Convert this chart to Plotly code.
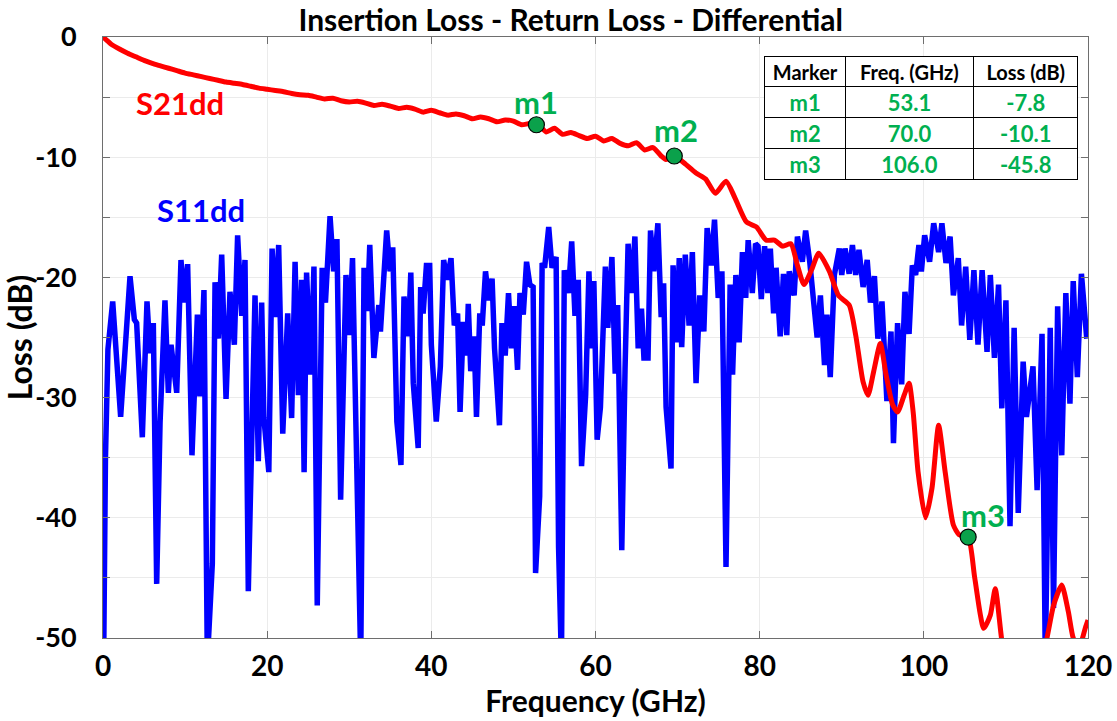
import plotly.graph_objects as go

# ---------------- data ----------------
s11_freq = [0.0, 0.3, 0.6, 1.18, 2.15, 2.7, 3.29, 3.82, 4.1, 4.79, 5.36, 5.73, 6.13, 6.54, 6.95, 7.55,
            7.96, 8.29, 8.98, 9.5, 9.91, 10.31, 10.84, 11.5, 11.8, 12.3, 12.71, 13.32, 13.65, 14.05,
            14.46, 14.99, 15.47, 16.0, 16.4, 16.9, 17.3, 17.7, 18.52, 18.92, 19.33, 19.6, 20.2, 20.6,
            21.0, 21.4, 21.9, 22.5, 22.98, 23.4, 23.8, 24.2, 24.5, 24.8, 25.3, 25.7, 26.1, 26.7, 27.1,
            27.66, 28.1, 28.5, 28.95, 29.6, 30.0, 30.4, 30.8, 31.4, 31.8, 32.2, 32.5, 33.0, 33.6, 33.8,
            34.56, 34.97, 35.3, 35.8, 36.3, 36.67, 37.2, 37.5, 37.8, 38.4, 38.7, 39.0, 39.4, 39.8, 40.0,
            40.6, 41.1, 41.5, 41.9, 42.4, 42.8, 43.2, 43.5, 43.9, 44.3, 44.5, 44.8, 45.2, 45.5, 45.9,
            46.2, 46.6, 47.0, 47.4, 47.7, 48.3, 48.6, 49.0, 49.4, 49.76, 50.1, 50.5, 50.8, 51.2, 51.6,
            52.0, 52.4, 52.7, 53.2, 53.5, 53.8, 54.3, 54.7, 55.2, 55.5, 55.85, 56.2, 56.7, 57.1, 57.5,
            57.9, 58.3, 58.8, 59.2, 59.5, 59.8, 60.2, 60.6, 61.2, 61.5, 62.0, 62.4, 62.7, 63.2, 63.6,
            63.97, 64.4, 64.8, 65.2, 65.6, 65.9, 66.4, 66.7, 67.1, 67.6, 68.0, 68.3, 68.6, 69.2, 69.45,
            69.9, 70.2, 70.5, 70.94, 71.4, 71.8, 72.25, 72.7, 73.2, 73.6, 74.1, 74.5, 74.95, 75.4, 75.9,
            76.4, 76.7, 77.1, 77.5, 77.9, 78.3, 78.6, 79.1, 79.5, 79.8, 80.2, 80.6, 81.0, 81.3, 81.7,
            82.0, 82.5, 82.9, 83.3, 83.6, 84.2, 84.6, 85.2, 85.6, 86.1, 87.0, 87.4, 87.9, 88.2, 88.6,
            89.1, 89.7, 90.0, 90.4, 90.9, 91.3, 91.7, 92.1, 92.6, 93.1, 93.5, 93.98, 94.4, 94.9, 95.5,
            96.0, 96.3, 96.8, 97.3, 97.7, 98.2, 98.6, 99.0, 99.4, 99.7, 100.1, 100.7, 101.2, 101.8,
            102.2, 102.7, 103.2, 103.6, 104.2, 104.6, 105.1, 105.6, 106.1, 106.6, 107.1, 107.7, 108.1,
            108.6, 109.1, 109.5, 110.0, 110.5, 111.0, 111.5, 112.1, 112.5, 113.3, 113.8, 114.4, 114.8,
            115.4, 115.8, 116.3, 116.8, 117.3, 117.8, 118.2, 118.7, 119.2, 119.85]
s11_db = [-58, -35, -26, -22.0, -31.6, -25, -19.9, -23.5, -23.8, -33.3, -22.0, -26.3, -23.8, -45.5, -32.1, -21.9,
          -29.6, -25.6, -29.6, -18.55, -22.1, -18.9, -34.8, -23.1, -29.9, -21.05, -52, -43.8, -20.4, -25.1,
          -18.1, -30.1, -21.2, -25.6, -16.5, -23.2, -18.55, -46.1, -21.5, -35.3, -22.1, -31.7, -36.2, -17.6,
          -23.3, -17.3, -33.0, -23.0, -31.7, -18.7, -29.8, -20.2, -36.2, -19.6, -28.1, -19.1, -47.3, -19.2, -22.1,
          -14.9, -19.5, -16.8, -38.5, -19.8, -24.8, -18.4, -33.4, -52, -19.2, -22.8, -17.3, -26.7, -22.3, -24.5,
          -16.1, -19.5, -17.5, -32.0, -35.6, -21.6, -24.9, -19.6, -28.8, -34.2, -20.8, -23.0, -19.0, -19.0, -25.6,
          -32.0, -27.4, -18.55, -20.2, -18.4, -24.0, -23.0, -31.2, -23.7, -26.5, -22.2, -27.8, -24.9, -31.6, -23.0,
          -24.0, -19.5, -21.9, -20.1, -25.9, -32.3, -23.8, -26.5, -21.3, -25.9, -22.4, -27.7, -21.3, -23.1, -18.7,
          -20.6, -20.8, -44.6, -38.2, -18.8, -19.2, -15.8, -19.2, -18.3, -42.4, -52, -19.4, -21.3, -17.0, -23.2,
          -20.2, -35.7, -29.8, -19.5, -25.9, -20.3, -33.5, -30.8, -19.1, -24.2, -18.3, -28.0, -22.3, -42.7, -27.6,
          -17.2, -21.3, -16.6, -25.9, -22.6, -26.7, -26.7, -16.1, -19.5, -15.5, -23.3, -20.5, -30.8, -35.9, -19.0,
          -25.4, -18.4, -25.8, -18.1, -24.0, -17.9, -28.8, -21.5, -24.5, -15.9, -19.0, -15.2, -21.7, -19.5, -44.1,
          -20.6, -28.1, -19.8, -25.4, -17.9, -21.7, -16.9, -21.3, -17.2, -17.4, -21.8, -17.4, -21.3, -17.6, -23.0,
          -19.2, -24.9, -19.7, -24.8, -19.5, -21.5, -16.6, -18.7, -16.1, -18.7, -25.0, -21.5, -27.3, -23.1, -28.3,
          -19.8, -17.6, -19.8, -17.6, -19.7, -17.3, -19.8, -17.7, -20.8, -18.55, -22.1, -19.9, -25.1, -22.0, -30.3,
          -24.5, -33.8, -23.8, -28.9, -21.2, -24.7, -19.0, -19.8, -17.3, -19.5, -16.5, -18.7, -15.5, -17.9,
          -15.5, -18.8, -16.6, -21.5, -18.4, -24.0, -19.1, -25.2, -19.4, -25.6, -19.4, -26.2, -19.8,
          -26.7, -20.6, -30.9, -21.9, -40.7, -24.2, -39.6, -27.0, -31.6, -27.4, -37.7, -24.7, -52,
          -24.2, -47.5, -22.4, -34.8, -21.3, -30.5, -20.3, -28.3, -19.7, -25.1]

s21_freq = [0, 0.5, 1, 2, 3, 4, 5, 6, 7, 8, 9, 10, 11, 12, 13, 14, 15, 16, 17, 18, 19, 20, 21, 22, 23, 24,
            25, 26, 27, 28, 29, 30, 31, 32, 33, 34, 35, 36, 37, 38, 39, 40, 41, 42, 43, 44, 45, 46, 47,
            48, 49, 50, 51, 52, 53.1, 54, 55, 56, 57, 58, 59, 60, 61, 62, 63, 64, 65, 66, 67, 68, 68.6,
            69.6, 71.0, 72.2, 73.4, 74.6, 75.9, 77.0, 78.4, 79.6, 80.8, 81.8, 82.8, 83.8, 84.6,
            85.4, 86.3, 87.2, 88.5, 89.6, 90.9, 91.7, 92.6, 93.2, 93.9, 94.7, 95.4, 96.2, 96.8, 97.6,
            98.2, 98.7, 99.3, 100.2, 101.0, 101.8, 102.6, 103.6, 104.3, 105.4, 106.2, 107.3, 108.1,
            108.7, 109.5, 110.5, 112.0, 113.5, 115.0, 115.8, 116.8, 117.6, 118.2, 118.9, 119.7, 120]
s21_db = [0, -0.3, -0.6, -1.0, -1.35, -1.65, -1.95, -2.2, -2.4, -2.6, -2.8, -3.0, -3.15, -3.3, -3.45, -3.6,
          -3.75, -3.85, -3.95, -4.1, -4.25, -4.35, -4.45, -4.55, -4.7, -4.8, -4.85, -5.0, -5.15, -5.1, -5.3,
          -5.4, -5.35, -5.5, -5.7, -5.6, -5.75, -5.95, -5.85, -6.0, -6.25, -6.1, -6.3, -6.5, -6.4, -6.55,
          -6.8, -6.65, -6.8, -7.05, -6.9, -7.0, -7.3, -7.2, -7.35, -7.9, -7.6, -8.1, -7.95, -8.2, -8.45,
          -8.25, -8.65, -8.45, -8.85, -9.05, -8.8, -9.4, -9.2, -9.9, -10.2, -9.9, -10.6, -11.3, -11.8,
          -13.0, -12.0, -13.4, -15.4, -15.8, -16.9, -16.9, -17.4, -17.2, -19.0, -20.6, -19.4,
          -18.0, -19.5, -21.5, -22.3, -24.8, -28.7, -29.8, -27.8, -25.5, -28.1, -30.6, -31.2, -29.8,
          -28.8, -31.2, -36.2, -40.0, -37.5, -32.3, -36.2, -40.6, -41.4, -41.6, -45.0, -49.2, -48.1,
          -45.9, -50.2, -54, -56, -54, -50, -47.3, -45.6, -47.8, -50, -50.8, -49.1, -48.5]

marker_names = ["m1", "m2", "m3"]
marker_freq_plot = [52.8, 69.6, 105.4]
marker_loss_plot = [-7.3, -9.9, -41.6]
marker_freq_table = [53.1, 70.0, 106.0]
marker_loss_table = [-7.8, -10.1, -45.8]
table_header = ["Marker", "Freq. (GHz)", "Loss (dB)"]

x_ticks = [0, 20, 40, 60, 80, 100, 120]
y_ticks = [0, -5, -10, -15, -20, -25, -30, -35, -40, -45, -50]
y_tick_text = ["0", "", "-10", "", "-20", "", "-30", "", "-40", "", "-50"]

# ---------------- figure ----------------
FONT = "Lato"
GREEN = "#00B050"

fig = go.Figure()

fig.add_trace(go.Scatter(x=s11_freq, y=s11_db, mode="lines", name="S11dd",
                         line=dict(color="#0000FF", width=5.5)))
fig.add_trace(go.Scatter(x=s21_freq, y=s21_db, mode="lines", name="S21dd",
                         line=dict(color="#FF0000", width=5, shape="spline", smoothing=0.6)))
fig.add_trace(go.Scatter(x=marker_freq_plot, y=marker_loss_plot, mode="markers",
                         marker=dict(size=16, color="#0BA14B", line=dict(color="black", width=1.2)),
                         cliponaxis=False))

fig.add_trace(go.Table(
    domain=dict(x=[0.672, 0.990], y=[0.745, 0.967]),
    columnwidth=[80, 128, 104],
    header=dict(values=table_header, height=30, align="center",
                fill_color="white", line=dict(color="black", width=1),
                font=dict(family=FONT, size=20, color="black", weight="bold")),
    cells=dict(values=[marker_names, marker_freq_table, marker_loss_table],
               format=["", ".1f", ".1f"], height=31, align="center",
               fill_color="white", line=dict(color="black", width=1),
               font=dict(family=FONT, size=22, color=GREEN, weight="bold")),
))

# marker labels
shifts = [(0, 23), (2, 26), (15, 22)]
for name, fx, fy, (dx, dy) in zip(marker_names, marker_freq_plot, marker_loss_plot, shifts):
    fig.add_annotation(x=fx, y=fy, text=name, showarrow=False, xshift=dx, yshift=dy,
                       font=dict(family=FONT, size=31, color=GREEN, weight="bold"))

fig.add_annotation(x=9.4, y=-5.5, text="S21dd", showarrow=False,
                   font=dict(family=FONT, size=31, color="#FF0000", weight="bold"))
fig.add_annotation(x=11.9, y=-14.4, text="S11dd", showarrow=False,
                   font=dict(family=FONT, size=31, color="#0000FF", weight="bold"))

axis_common = dict(showline=True, linecolor="#6e6e6e", linewidth=1, mirror="ticks",
                   ticks="inside", ticklen=7, tickcolor="#6e6e6e", automargin=False,
                   showgrid=True, gridcolor="#ebebeb", gridwidth=1, zeroline=False)

fig.update_xaxes(range=[0, 120], tickvals=x_ticks, ticklabelstandoff=3,
                 tickfont=dict(family=FONT, size=28, color="black", weight="bold"),
                 title=dict(text="Frequency (GHz)", standoff=10,
                            font=dict(family=FONT, size=30, color="black", weight="bold")),
                 **axis_common)
fig.update_yaxes(range=[-50, 0], tickvals=y_ticks, ticktext=y_tick_text, ticklabelstandoff=20,
                 tickfont=dict(family=FONT, size=27, color="black", weight="bold"),
                 title=dict(text="Loss (dB)", standoff=0,
                            font=dict(family=FONT, size=32, color="black", weight="bold")),
                 **axis_common)

fig.update_layout(
    width=1117, height=721,
    margin=dict(l=103, r=29, t=37, b=83),
    paper_bgcolor="white", plot_bgcolor="white",
    showlegend=False,
    title=dict(text="Insertion Loss - Return Loss - Differential", x=0.511, xanchor="center",
               y=0.971, yanchor="middle",
               font=dict(family=FONT, size=30, color="black", weight="bold")),
)

fig.write_html("out.html")
